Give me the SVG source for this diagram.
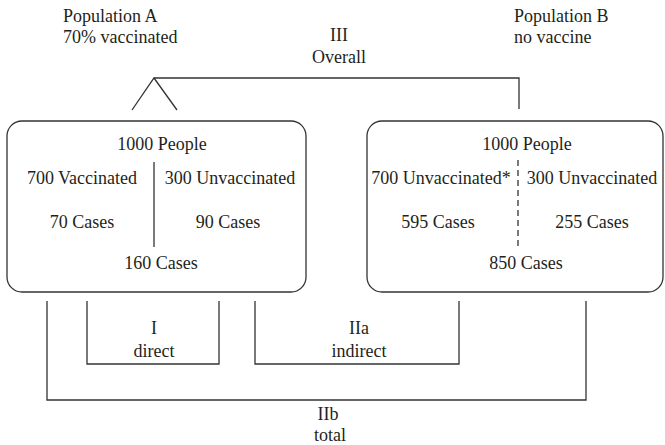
<svg xmlns="http://www.w3.org/2000/svg" width="665" height="445" viewBox="0 0 665 445">
<style>
text{font-family:"Liberation Serif","Times New Roman",serif;font-size:18px;fill:#231f20}
.c{text-anchor:middle}
.box{fill:#fff;stroke:#333;stroke-width:1.3}
.ln{fill:none;stroke:#333;stroke-width:1.3}
.dash{stroke-dasharray:6 4}
</style>
<rect width="665" height="445" fill="#fff"/>
<g id="labelA">
<text x="63" y="22">Population A</text>
<text x="63" y="43">70% vaccinated</text>
</g>
<g id="labelB">
<text x="514" y="22">Population B</text>
<text x="514" y="43">no vaccine</text>
</g>
<g id="popA">
<rect class="box" x="7" y="121" width="299" height="171" rx="15"/>
<line class="ln" x1="154" y1="162" x2="154" y2="247"/>
<text class="c" x="162" y="150">1000 People</text>
<text class="c" x="82" y="184">700 Vaccinated</text>
<text class="c" x="230" y="184">300 Unvaccinated</text>
<text class="c" x="82" y="228">70 Cases</text>
<text class="c" x="228" y="228">90 Cases</text>
<text class="c" x="161" y="269">160 Cases</text>
</g>
<g id="popB">
<rect class="box" x="367" y="121" width="296" height="171" rx="15"/>
<line class="ln dash" x1="518" y1="160" x2="518" y2="247"/>
<text class="c" x="527" y="150">1000 People</text>
<text class="c" x="441" y="184">700 Unvaccinated*</text>
<text class="c" x="592" y="184">300 Unvaccinated</text>
<text class="c" x="438" y="228">595 Cases</text>
<text class="c" x="592" y="228">255 Cases</text>
<text class="c" x="526" y="269">850 Cases</text>
</g>
<g id="connectors">
<polyline class="ln" points="132,110 154,78 177,110"/>
<polyline class="ln" points="154,78 519,78 519,109"/>
<polyline class="ln" points="87,301 87,364 219,364 219,301"/>
<polyline class="ln" points="255,301 255,364 459,364 459,301"/>
<polyline class="ln" points="47,301 47,400 586,400 586,301"/>
</g>
<g id="labelIII">
<text class="c" x="339" y="41">III</text>
<text class="c" x="339" y="63">Overall</text>
</g>
<g id="labelI">
<text class="c" x="154" y="334">I</text>
<text class="c" x="154" y="357">direct</text>
</g>
<g id="labelIIa">
<text class="c" x="359" y="334">IIa</text>
<text class="c" x="359" y="357">indirect</text>
</g>
<g id="labelIIb">
<text class="c" x="328" y="420">IIb</text>
<text class="c" x="330" y="441">total</text>
</g>
</svg>
